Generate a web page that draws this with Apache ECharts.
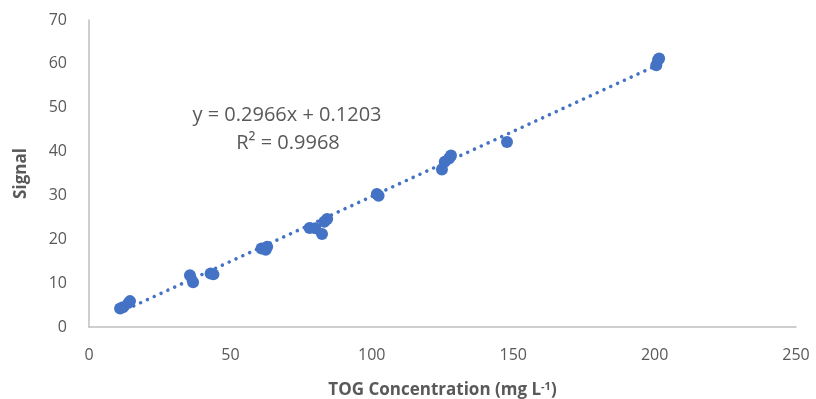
<!DOCTYPE html>
<html>
<head>
<meta charset="utf-8">
<script src="https://cdn.jsdelivr.net/npm/echarts@6/dist/echarts.min.js"></script>
<style>
  html, body { margin: 0; padding: 0; background: #fff; }
  #chart { width: 816px; height: 399px; }
</style>
</head>
<body>
<div id="chart"></div>
<script>
// measured points (TOG concentration, signal)
const togValues = [11, 12, 14, 14.5, 35.7, 36.8, 43, 44, 61, 63, 62.5, 78, 80, 82.4, 83.2, 84.2, 101.8, 102.4, 124.8, 125.8, 127.3, 128, 147.8, 200.6, 201.2, 201.6];
const signalValues = [4.2, 4.5, 5.5, 5.9, 11.8, 10.2, 12.2, 12.0, 17.9, 18.3, 17.6, 22.6, 22.5, 21.2, 24.0, 24.6, 30.3, 29.9, 35.9, 37.7, 38.4, 39.1, 42.2, 59.7, 60.9, 61.2];

// linear fit shown on the chart
const slope = 0.2966;
const intercept = 0.1203;
const trendX = [11, 201];

const xTicks = [0, 50, 100, 150, 200, 250];
const yTicks = [0, 10, 20, 30, 40, 50, 60, 70];

const points = togValues.map((x, i) => [x, signalValues[i]]);
const trend = trendX.map(x => [x, slope * x + intercept]);

const font = '"Open Sans", "Liberation Sans", sans-serif';
const textColor = '#595959';

const chart = echarts.init(document.getElementById('chart'));
chart.setOption({
  animation: false,
  grid: { left: 89, right: 20, top: 20, bottom: 72, outerBoundsMode: 'none', containLabel: false },
  xAxis: {
    type: 'value',
    min: xTicks[0],
    max: xTicks[xTicks.length - 1],
    interval: 50,
    name: '{a|TOG Concentration (mg L}{s|-1}{a|)}',
    nameLocation: 'middle',
    nameGap: 54,
    nameTextStyle: {
      rich: {
        a: { fontFamily: font, fontSize: 17, fontWeight: 'bold', color: textColor },
        s: { fontFamily: font, fontSize: 11, fontWeight: 'bold', color: textColor, verticalAlign: 'top', padding: [0, 0, 8, 0] }
      }
    },
    axisLine: { show: true, lineStyle: { color: '#bfbfbf', width: 1.5 } },
    axisTick: { show: false },
    splitLine: { show: false },
    axisLabel: { fontFamily: font, fontSize: 16, color: textColor, margin: 20 }
  },
  yAxis: {
    type: 'value',
    min: yTicks[0],
    max: yTicks[yTicks.length - 1],
    interval: 10,
    name: 'Signal',
    nameLocation: 'middle',
    nameGap: 59,
    nameTextStyle: { fontFamily: font, fontSize: 17, fontWeight: 'bold', color: textColor },
    axisLine: { show: true, lineStyle: { color: '#bfbfbf', width: 1.5 } },
    axisTick: { show: false },
    splitLine: { show: false },
    axisLabel: { fontFamily: font, fontSize: 16, color: textColor, margin: 22 }
  },
  graphic: [
    {
      type: 'text', x: 287, y: 115,
      style: { text: 'y = 0.2966x + 0.1203', font: '20px ' + font, fill: textColor, align: 'center', verticalAlign: 'middle' }
    },
    {
      type: 'text', x: 288, y: 143,
      style: { text: 'R² = 0.9968', font: '20px ' + font, fill: textColor, align: 'center', verticalAlign: 'middle' }
    }
  ],
  series: [
    {
      type: 'line',
      data: trend,
      symbol: 'none',
      z: 1,
      lineStyle: { color: '#4472C4', width: 3.5, type: [0.1, 7.4], cap: 'round' }
    },
    {
      type: 'scatter',
      data: points,
      symbolSize: 12,
      z: 2,
      itemStyle: { color: '#4472C4', opacity: 1 }
    }
  ]
});
</script>
</body>
</html>
